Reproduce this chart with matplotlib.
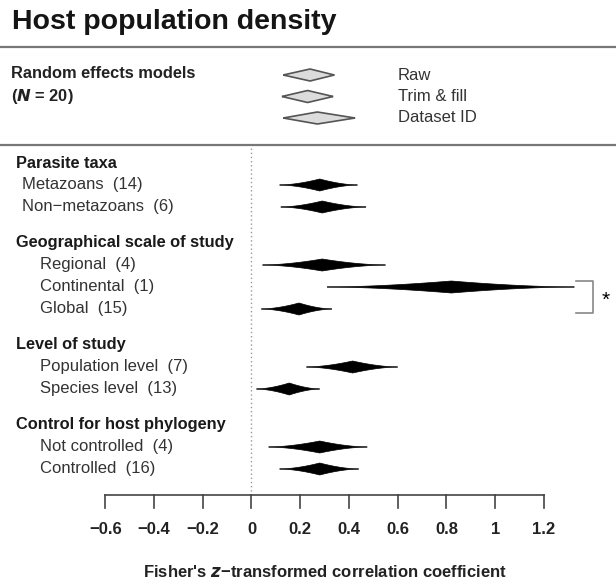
import numpy as np
import matplotlib.pyplot as plt
from matplotlib.patches import Polygon

plt.rcParams['font.family'] = ['Liberation Sans', 'DejaVu Sans']

# overall random effects models
re_labels = ['Raw', 'Trim & fill', 'Dataset ID']
re_mean = [0.24, 0.23, 0.27]
re_lo = [0.13, 0.125, 0.13]
re_hi = [0.34, 0.335, 0.425]

# moderator subgroups
groups = ['Parasite taxa', 'Geographical scale of study', 'Level of study',
          'Control for host phylogeny']
levels = [['Metazoans', 'Non\u2212metazoans'],
          ['Regional', 'Continental', 'Global'],
          ['Population level', 'Species level'],
          ['Not controlled', 'Controlled']]
counts = [[14, 6], [4, 1, 15], [7, 13], [4, 16]]
means = [[0.28, 0.29], [0.29, 0.82, 0.195], [0.415, 0.155], [0.28, 0.28]]
lowers = [[0.115, 0.12], [0.045, 0.31, 0.04], [0.225, 0.02], [0.07, 0.115]]
uppers = [[0.435, 0.47], [0.55, 1.325, 0.33], [0.60, 0.28], [0.475, 0.44]]

xticks = [-0.6, -0.4, -0.2, 0, 0.2, 0.4, 0.6, 0.8, 1, 1.2]
xticklabels = ['\u22120.6', '\u22120.4', '\u22120.2', '0', '0.2', '0.4', '0.6', '0.8', '1', '1.2']

W, H = 616, 581
PX = 243.75          # pixels per unit of z
ZERO = 251.5         # pixel column of z = 0


def px(p):
    # pixel column -> data x
    return (p - ZERO) / PX


def spindle(ax, lo, mid, hi, y, h, power, **kw):
    t = np.linspace(0, 1, 40)
    xl = lo + (mid - lo) * t
    xr = hi - (hi - mid) * t
    hh = h * t ** power
    xs = np.concatenate([xl, xr[::-1], xr, xl[::-1]])
    ys = np.concatenate([y - hh, y - hh[::-1], y + hh, y + hh[::-1]])
    ax.add_patch(Polygon(np.column_stack([xs, ys]), closed=True, **kw))


fig = plt.figure(figsize=(W / 100, H / 100), dpi=100)
ax = fig.add_axes([0, 0, 1, 1])
ax.set_xlim(px(0), px(W))
ax.set_ylim(H, 0)
ax.axis('off')

ax.text(px(12), 29, 'Host population density', fontsize=20.5, fontweight='bold',
        va='baseline', ha='left', color='#151515')
ax.plot([px(0), px(W)], [47, 47], color='#777777', lw=1.6)
ax.plot([px(0), px(W)], [145, 145], color='#777777', lw=1.6)

# random effects block
ax.text(px(11), 73, 'Random effects models', fontsize=11.8, fontweight='bold',
        va='center', color='#222222')
ax.text(px(11), 97, '($\\mathbfit{N}$ = 20)', fontsize=11.8, fontweight='bold',
        va='center', color='#222222')
for i, lab in enumerate(re_labels):
    y = 75 + i * 21.5
    spindle(ax, re_lo[i], re_mean[i], re_hi[i], y, 6, 1.0,
            facecolor='#dcdcdc', edgecolor='#555555', lw=1.2)
    ax.text(px(398), y, lab, fontsize=12, va='center', color='#333333')

# subgroup block
ax.plot([0, 0], [148, 495], color='#999999', lw=1, ls=(0, (1, 2)))
y = 163
cont_y = None
for g, grp in enumerate(groups):
    ax.text(px(16.5), y, grp, fontsize=11.8, fontweight='bold', va='center',
            color='#1a1a1a')
    indent = 22 if g == 0 else 40.5
    for k, lev in enumerate(levels[g]):
        y += 22
        ax.text(px(indent), y, f'{lev}  ({counts[g][k]})', fontsize=12,
                va='center', color='#333333')
        spindle(ax, lowers[g][k], means[g][k], uppers[g][k], y, 6, 1.7,
                facecolor='black', edgecolor='black', lw=0.5)
        if lev == 'Continental':
            cont_y = y
    y += 36

# significance bracket between Continental and Global
bx0, bx1 = uppers[1][1] + 0.005, uppers[1][1] + 0.075
ax.plot([bx0, bx1, bx1, bx0], [cont_y - 6, cont_y - 6, cont_y + 26, cont_y + 26],
        color='#888888', lw=1.2)
ax.text(bx1 + 0.035, cont_y + 13, '*', fontsize=15, ha='left', va='center')

# x axis
ax.plot([xticks[0], xticks[-1]], [495, 495], color='#444444', lw=1.2)
for t, lab in zip(xticks, xticklabels):
    ax.plot([t, t], [495, 508], color='#444444', lw=1.2)
    ax.text(t, 530, lab, fontsize=12, fontweight='bold', ha='center', va='center',
            color='#222222')
ax.text((xticks[0] + xticks[-1]) / 2, 572,
        "Fisher's $\\mathbfit{z}$\u2212transformed correlation coefficient",
        fontsize=12, fontweight='bold', ha='center', va='center', color='#222222')

fig.savefig('out.png', dpi=100)
